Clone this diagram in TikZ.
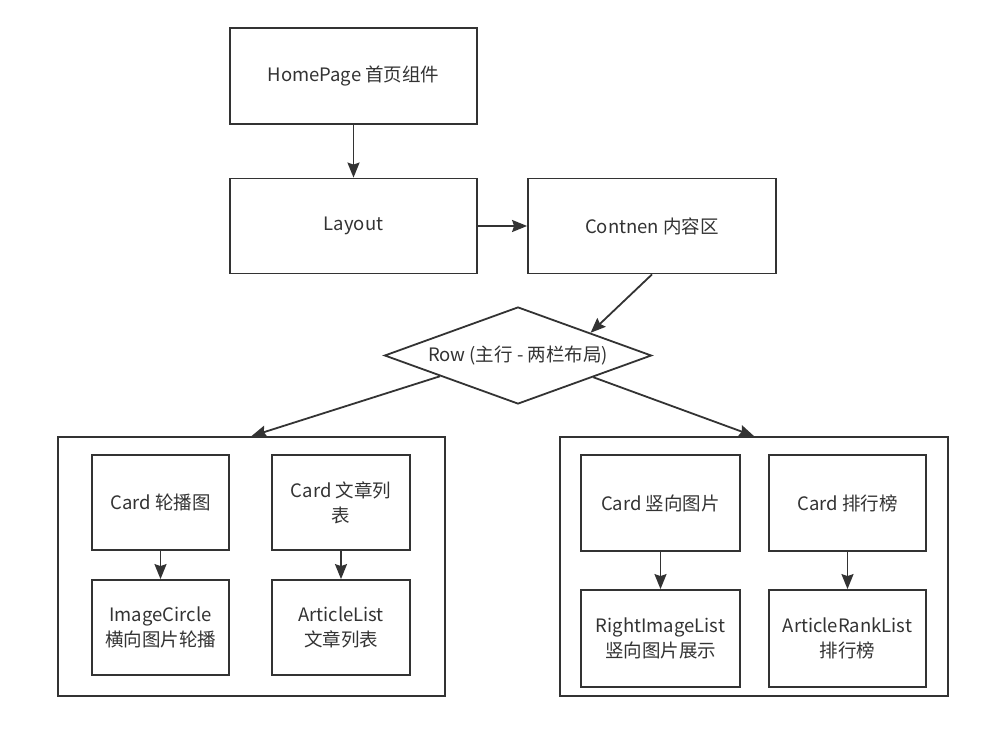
\documentclass[tikz,border=0pt]{standalone}
\usepackage{fontspec}
\setmainfont{Noto Sans CJK SC}
\usetikzlibrary{arrows.meta,shapes.geometric,calc}
\definecolor{ink}{HTML}{333333}
\tikzset{
  box/.style={draw=ink, line width=1.8pt, fill=white, inner sep=2pt, align=center,
    text=ink, font=\fontsize{18.5}{25}\selectfont},
  arr/.style={draw=ink, line width=1.8pt, -{Stealth[length=15pt,width=12pt,inset=2pt]}},
}
\begin{document}
\begin{tikzpicture}[x=1pt,y=-1pt]
\useasboundingbox (0,0) rectangle (999,735);
\fill[white] (0,0) rectangle (999,735);
% top level
\node[box, minimum width=247pt, minimum height=96pt] (home) at (353.5,76) {HomePage 首页组件};
\node[box, minimum width=247pt, minimum height=95pt] (layout) at (353.5,226) {Layout};
\node[box, minimum width=248pt, minimum height=95pt] (content) at (652,226) {Contnen 内容区};
\node[box, diamond, inner sep=0pt, minimum width=267pt, minimum height=97pt] (row) at (518,355.5) {};
\node[text=ink, font=\fontsize{18.5}{25}\selectfont] (rowtext) at (row.center) {Row (主行 - 两栏布局)};
% containers
\node[box, minimum width=387pt, minimum height=259pt] (left) at (251.5,566.5) {};
\node[box, minimum width=388pt, minimum height=259pt] (right) at (754,566.5) {};
% inner left
\node[box, minimum width=137pt, minimum height=95pt] (c1) at (160.5,502.5) {Card 轮播图};
\node[box, minimum width=138pt, minimum height=95pt] (c2) at (341,502.5) {Card 文章列\\表};
\node[box, minimum width=137pt, minimum height=95pt] (i1) at (160.5,627.5) {ImageCircle\\横向图片轮播};
\node[box, minimum width=138pt, minimum height=95pt] (i2) at (341,627.5) {ArticleList\\文章列表};
% inner right
\node[box, minimum width=159pt, minimum height=96pt] (c3) at (660.5,503) {Card 竖向图片};
\node[box, minimum width=157pt, minimum height=96pt] (c4) at (847.5,503) {Card 排行榜};
\node[box, minimum width=159pt, minimum height=97pt] (i3) at (660.5,638.5) {RightImageList\\竖向图片展示};
\node[box, minimum width=157pt, minimum height=97pt] (i4) at (847.5,638.5) {ArticleRankList\\排行榜};
% connectors
\draw[arr] (home) -- (layout);
\draw[arr] (layout) -- (content);
\coordinate (rowin) at ($(row.north)!0.54!(row.east)$);
\draw[arr] (content.south) -- (rowin);
\coordinate (rowl) at ($(row.west)!0.42!(row.south)$);
\coordinate (rowr) at ($(row.east)!0.44!(row.south)$);
\draw[arr] (rowl) -- (left.north);
\draw[arr] (rowr) -- (right.north);
\draw[arr] (c1) -- (i1);
\draw[arr] (c2) -- (i2);
\draw[arr] (c3) -- (i3);
\draw[arr] (c4) -- (i4);
\end{tikzpicture}
\end{document}
